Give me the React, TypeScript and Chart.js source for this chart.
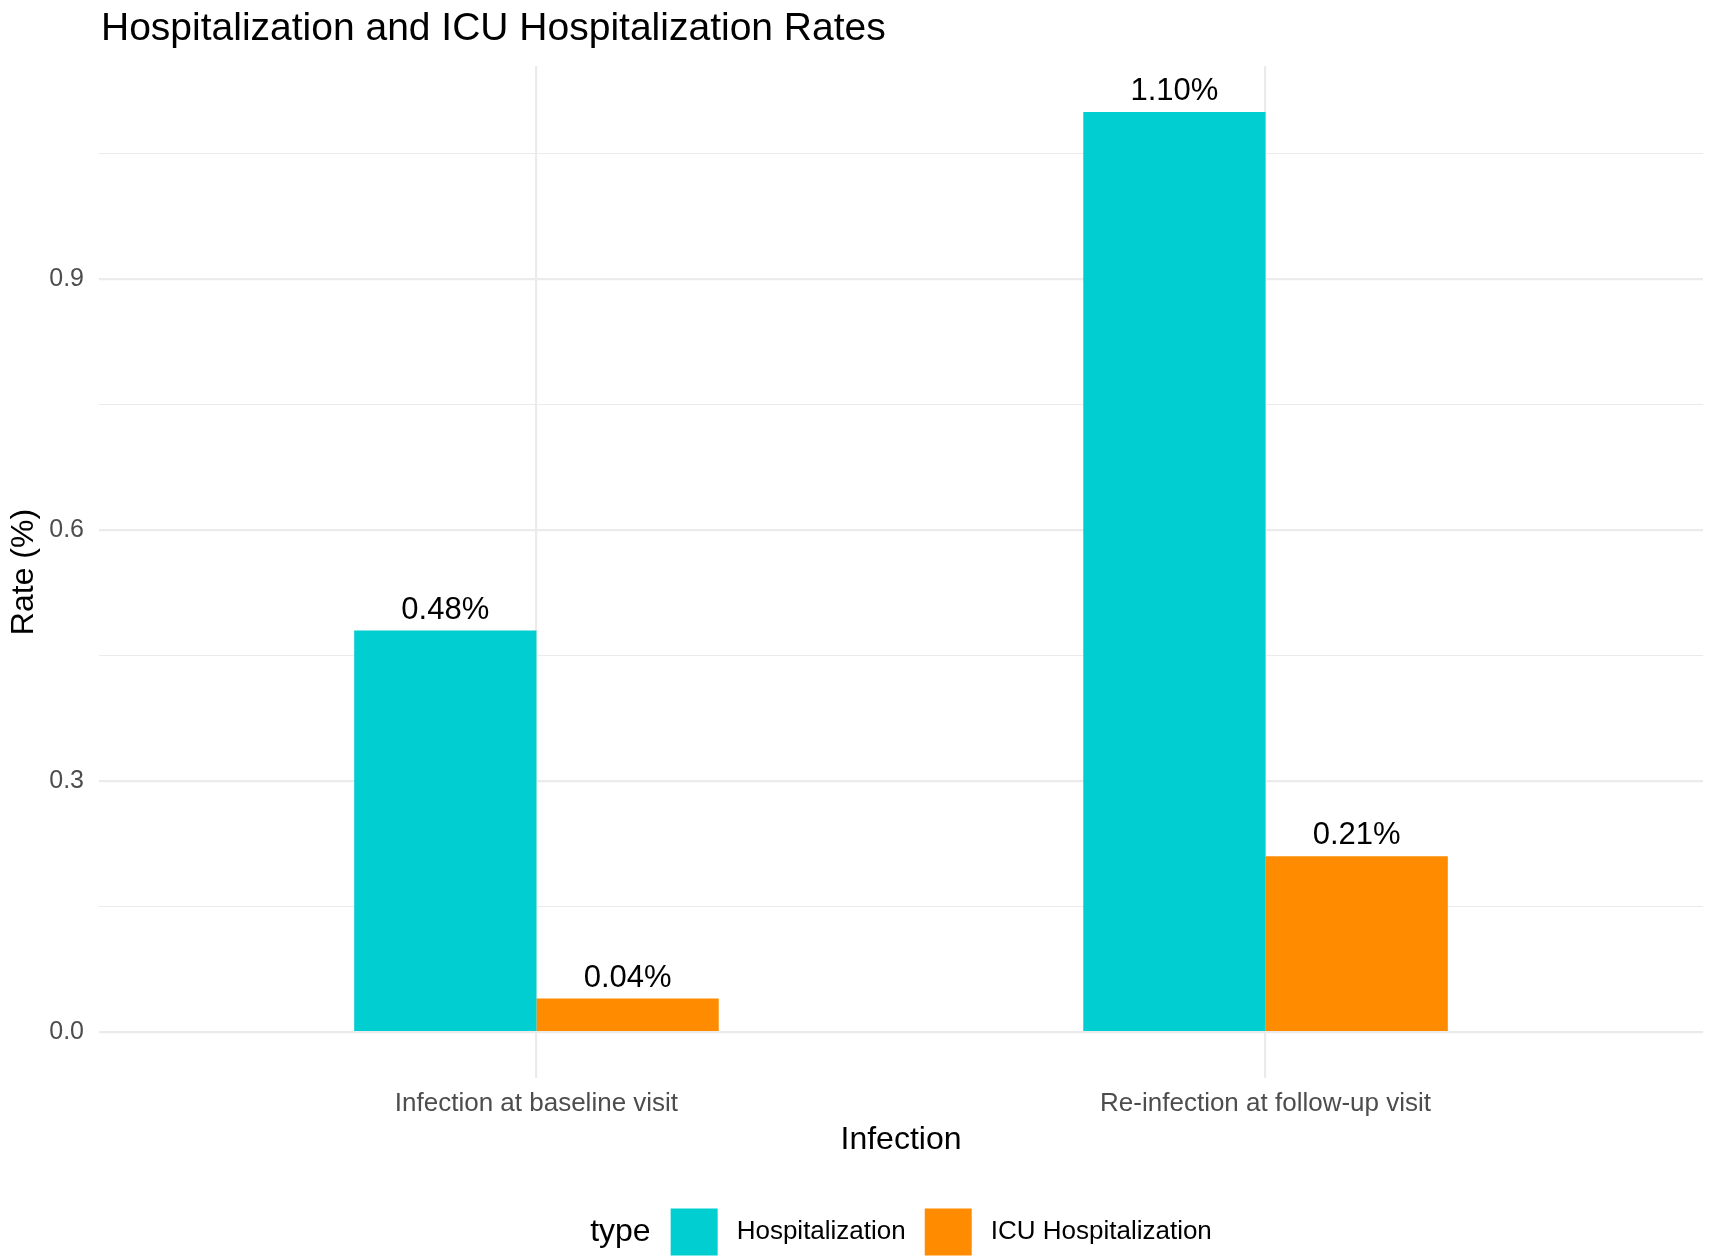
import { useEffect, useRef } from "react";
import { Chart, registerables } from "chart.js";

Chart.register(...registerables);

const chartTitle = "Hospitalization and ICU Hospitalization Rates";
const categories = ["Infection at baseline visit", "Re-infection at follow-up visit"];
const hospitalization = [0.48, 1.1];
const icuHospitalization = [0.04, 0.21];
const seriesNames = ["Hospitalization", "ICU Hospitalization"];
const seriesColors = ["#00CED1", "#FF8C00"];
const yMajorTicks = [0, 0.3, 0.6, 0.9];
const yMinorTicks = [0.15, 0.45, 0.75, 1.05];
const legendTitle = "type";

const FONT = "'Liberation Sans', Arial, sans-serif";

const isMajor = (v: number) => yMajorTicks.some((m) => Math.abs(m - v) < 1e-6);

// title, value labels and the ggplot-like legend
const extrasPlugin = {
  id: "extras",
  afterDatasetsDraw(chart: any) {
    const ctx = chart.ctx;
    ctx.save();
    ctx.fillStyle = "#000";
    ctx.font = `31px ${FONT}`;
    ctx.textAlign = "center";
    ctx.textBaseline = "alphabetic";
    chart.data.datasets.forEach((ds: any, di: number) => {
      const meta = chart.getDatasetMeta(di);
      meta.data.forEach((el: any, i: number) => {
        const v = ds.data[i].y;
        ctx.fillText(v.toFixed(2) + "%", el.x, el.y - 12);
      });
    });
    ctx.restore();
  },
  afterDraw(chart: any) {
    const ctx = chart.ctx;
    const area = chart.chartArea;
    ctx.save();
    // title
    ctx.fillStyle = "#000";
    ctx.font = `39px ${FONT}`;
    ctx.textAlign = "left";
    ctx.textBaseline = "alphabetic";
    ctx.fillText(chartTitle, 101, 40);

    // legend
    const keySize = 47;
    const cy = 1232;
    ctx.font = `32px ${FONT}`;
    const titleW = ctx.measureText(legendTitle).width;
    ctx.font = `26px ${FONT}`;
    const labelWs = chart.data.datasets.map((d: any) => ctx.measureText(d.label).width);
    let total = titleW;
    labelWs.forEach((w: number, i: number) => {
      total += (i === 0 ? 20 : 19) + keySize + 19 + w;
    });
    let x = (area.left + area.right) / 2 - total / 2;
    ctx.textBaseline = "middle";
    ctx.font = `32px ${FONT}`;
    ctx.fillText(legendTitle, x, cy);
    x += titleW;
    chart.data.datasets.forEach((d: any, i: number) => {
      x += i === 0 ? 20 : 19;
      ctx.fillStyle = d.backgroundColor;
      ctx.fillRect(x, cy - keySize / 2, keySize, keySize);
      x += keySize + 19;
      ctx.fillStyle = "#000";
      ctx.font = `26px ${FONT}`;
      ctx.fillText(d.label, x, cy);
      x += labelWs[i];
    });
    ctx.restore();
  },
};

const App = () => {
  const chartRef = useRef<HTMLCanvasElement>(null);
  const chartInstance = useRef<Chart | null>(null);

  useEffect(() => {
    if (!chartRef.current) return;
    if (chartInstance.current) chartInstance.current.destroy();
    const ctx = chartRef.current.getContext("2d");
    if (!ctx) return;

    const series = [hospitalization, icuHospitalization];

    chartInstance.current = new Chart(ctx, {
      type: "bar",
      data: {
        datasets: series.map((vals, s) => ({
          label: seriesNames[s],
          data: vals.map((v, i) => ({ x: i + 1, y: v })),
          backgroundColor: seriesColors[s],
          borderWidth: 0,
          categoryPercentage: 0.5,
          barPercentage: 1.0,
        })),
      },
      options: {
        animation: false,
        responsive: false,
        devicePixelRatio: 1,
        layout: { padding: { top: 66, right: 10, bottom: 91, left: 0 } },
        plugins: {
          legend: { display: false },
          title: { display: false },
          tooltip: { enabled: false },
        },
        scales: {
          x: {
            type: "linear",
            min: 0.4,
            max: 2.6,
            offset: false,
            afterBuildTicks: (scale: any) => {
              scale.ticks = categories.map((_, i) => ({ value: i + 1 }));
            },
            afterFit: (scale: any) => {
              scale.height = 90;
            },
            grid: { color: "#EBEBEB", lineWidth: 2.2, drawTicks: false, offset: false },
            border: { display: false },
            ticks: {
              autoSkip: false,
              maxRotation: 0,
              padding: 10,
              color: "#4D4D4D",
              font: { family: FONT, size: 26 },
              callback: (v: any) => categories[Math.round(Number(v)) - 1] ?? "",
            },
            title: {
              display: true,
              text: "Infection",
              color: "#000",
              font: { family: FONT, size: 32 },
              padding: { top: 0, bottom: 9 },
            },
          },
          y: {
            type: "linear",
            min: -0.055,
            max: 1.155,
            afterBuildTicks: (scale: any) => {
              scale.ticks = [...yMajorTicks, ...yMinorTicks]
                .sort((a, b) => a - b)
                .map((v) => ({ value: v }));
            },
            afterFit: (scale: any) => {
              scale.width = 99;
            },
            grid: {
              color: "#EBEBEB",
              lineWidth: (c: any) => (isMajor(c.tick.value) ? 2.2 : 1.1),
              drawTicks: false,
            },
            border: { display: false },
            ticks: {
              autoSkip: false,
              padding: 15,
              color: "#4D4D4D",
              font: { family: FONT, size: 25 },
              callback: (v: any) => (isMajor(Number(v)) ? Number(v).toFixed(1) : ""),
            },
            title: {
              display: true,
              text: "Rate (%)",
              color: "#000",
              font: { family: FONT, size: 32 },
              padding: { top: 5, bottom: 0 },
            },
          },
        },
      },
      plugins: [extrasPlugin],
    });

    return () => {
      if (chartInstance.current) {
        chartInstance.current.destroy();
        chartInstance.current = null;
      }
    };
  }, []);

  return (
    <div style={{ position: "absolute", left: 0, top: 0, width: 1713, height: 1259, background: "#fff" }}>
      <canvas ref={chartRef} width={1713} height={1259} style={{ width: 1713, height: 1259 }}></canvas>
    </div>
  );
};

export default App;
